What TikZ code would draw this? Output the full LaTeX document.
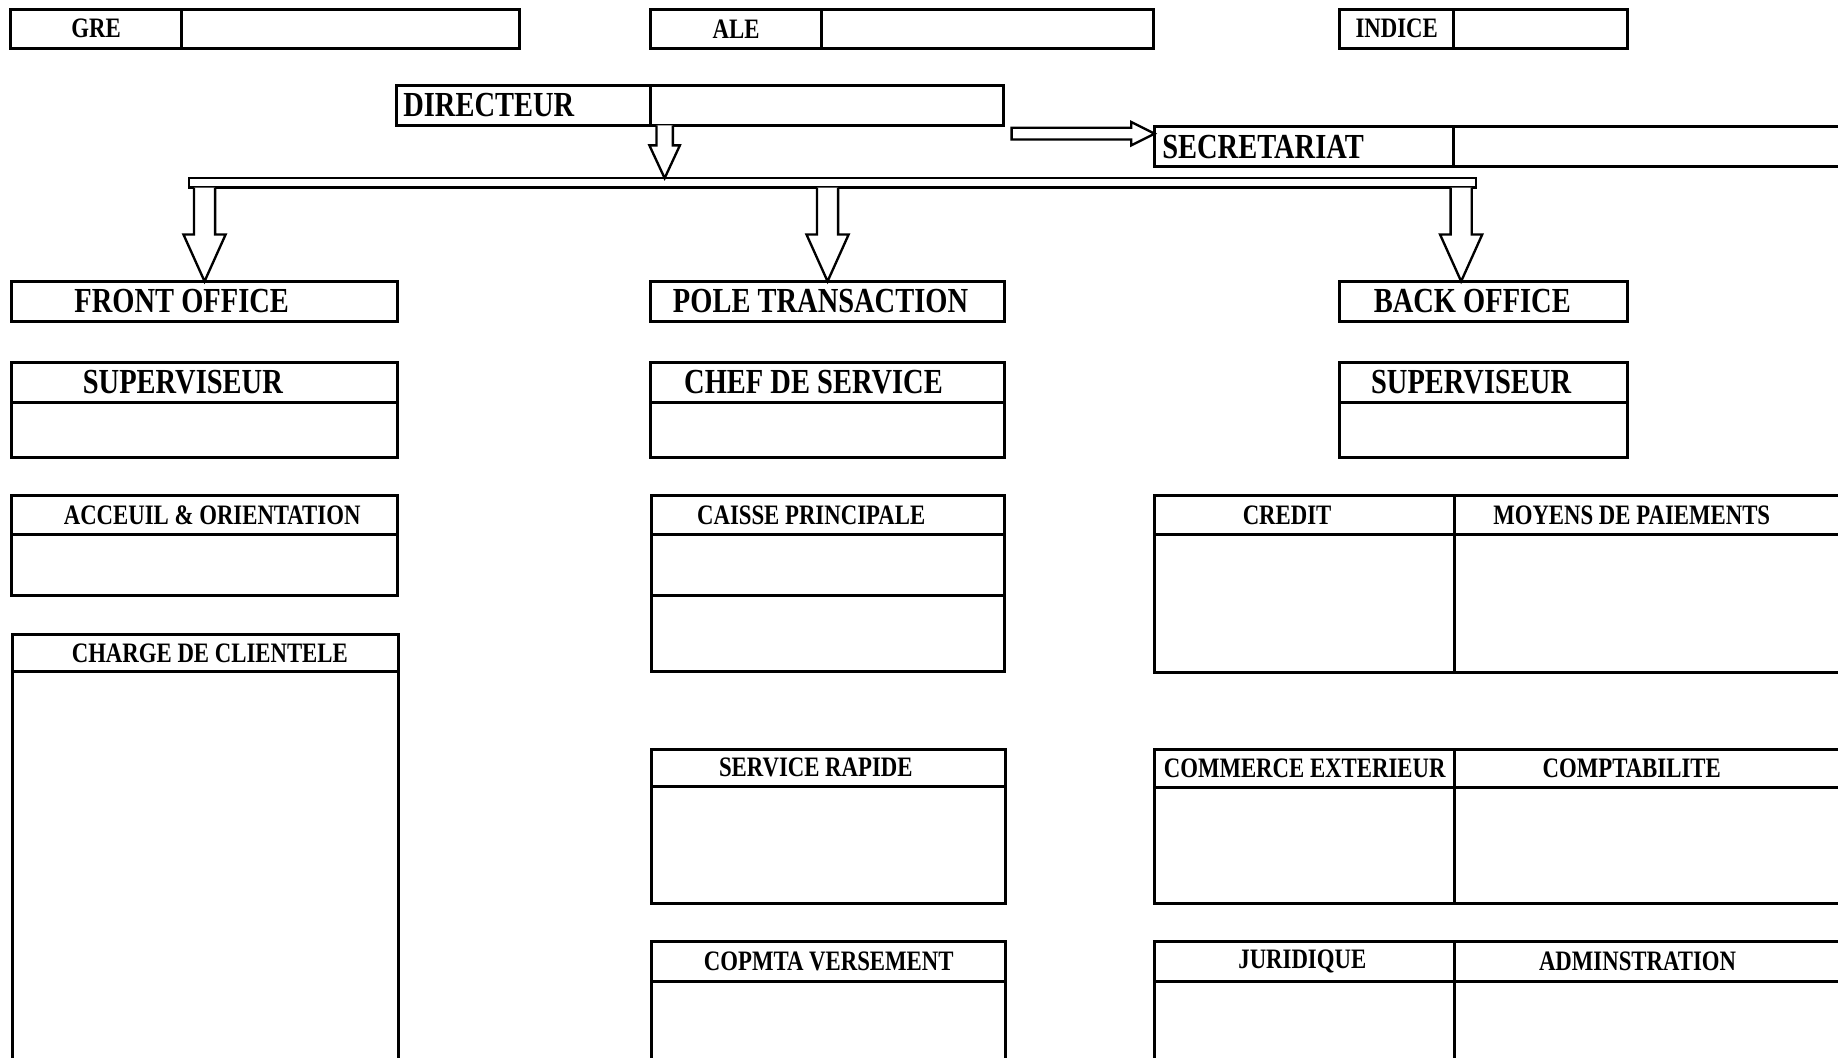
\documentclass[tikz,border=0pt]{standalone}
\usepackage{fontspec}
\setmainfont{Liberation Serif}[FakeStretch=0.81]
\usetikzlibrary{positioning, calc}

\begin{document}
\begin{tikzpicture}[x=0.5pt, y=-0.5pt,
  cell/.style = {draw, rectangle, line width=1.3pt, inner sep=0pt, outer sep=0pt, anchor=north west},
  big/.style = {font=\fontsize{15}{18}\selectfont\bfseries},
  small/.style = {font=\fontsize{12}{14}\selectfont\bfseries},
  nudge/.style = {execute at begin node={\hspace*{#1}}},
  flow/.style = {draw, line width=1pt, fill=white, line join=miter}]
\useasboundingbox (0,0) rectangle (1568,902);
\clip (0,0) rectangle (1568,902);

\node[cell, small, minimum width=73pt, minimum height=16.5pt] (gre) at (9,8) {GRE};
\node[cell, minimum width=144pt, minimum height=16.5pt, right=0pt of gre] (grev) {};
\node[cell, small, minimum width=73pt, minimum height=16.5pt] (ale) at (555,8) {ALE};
\node[cell, minimum width=141.5pt, minimum height=16.5pt, right=0pt of ale] (alev) {};
\node[cell, small, minimum width=48.5pt, minimum height=16.5pt] (indice) at (1143,8) {INDICE};
\node[cell, minimum width=74pt, minimum height=16.5pt, right=0pt of indice] (indicev) {};

\node[cell, big, minimum width=108.5pt, minimum height=17pt, nudge=-29.5pt] (dir) at (338,73) {DIRECTEUR};
\node[cell, minimum width=150.5pt, minimum height=17pt, right=0pt of dir] (dirv) {};
\node[cell, big, minimum width=127.5pt, minimum height=17pt, nudge=-35pt] (secr) at (985,108) {SECRETARIAT};
\node[cell, minimum width=190pt, minimum height=17pt, right=0pt of secr] (secrv) {};

\node[cell, line width=1pt, minimum width=549pt, minimum height=4pt] (bar) at (161,152) {};

\node[cell, big, minimum width=164.5pt, minimum height=17pt, nudge=-19.5pt] (front) at (10,240) {FRONT OFFICE};
\node[cell, big, minimum width=151pt, minimum height=17pt, nudge=-6pt] (pole) at (555,240) {POLE TRANSACTION};
\node[cell, big, minimum width=122.5pt, minimum height=17pt, nudge=-9.5pt] (back) at (1143,240) {BACK OFFICE};
\coordinate (backtip) at ([xshift=-9.5pt]back.north);

\node[cell, big, minimum width=164.5pt, minimum height=17pt, nudge=-18.5pt] (sup1) at (10,309) {SUPERVISEUR};
\node[cell, minimum width=164.5pt, minimum height=23.5pt, below=0pt of sup1] (sup1b) {};
\node[cell, big, minimum width=151pt, minimum height=17pt, nudge=-12pt] (chef) at (555,309) {CHEF DE SERVICE};
\node[cell, minimum width=151pt, minimum height=23.5pt, below=0pt of chef] (chefb) {};
\node[cell, big, minimum width=122.5pt, minimum height=17pt, nudge=-10.5pt] (sup2) at (1143,309) {SUPERVISEUR};
\node[cell, minimum width=122.5pt, minimum height=23.5pt, below=0pt of sup2] (sup2b) {};

\node[cell, small, minimum width=164.5pt, minimum height=16.5pt, nudge=6.5pt] (acc) at (10,423) {ACCEUIL \& ORIENTATION};
\node[cell, minimum width=164.5pt, minimum height=26pt, below=0pt of acc] (accb) {};
\node[cell, small, minimum width=164.5pt, minimum height=16pt, nudge=3.5pt] (charge) at (11,541) {CHARGE DE CLIENTELE};
\node[cell, minimum width=164.5pt, minimum height=200pt, below=0pt of charge] (chargeb) {};

\node[cell, small, minimum width=150.5pt, minimum height=16.5pt, nudge=-14.5pt] (caisse) at (556,423) {CAISSE PRINCIPALE};
\node[cell, minimum width=150.5pt, minimum height=26pt, below=0pt of caisse] (caisseb) {};
\node[cell, minimum width=150.5pt, minimum height=32.5pt, below=0pt of caisseb] (caissec) {};
\node[cell, small, minimum width=151pt, minimum height=16pt, nudge=-11pt] (rapide) at (556,639) {SERVICE RAPIDE};
\node[cell, minimum width=151pt, minimum height=50pt, below=0pt of rapide] (rapideb) {};
\node[cell, small, minimum width=151pt, minimum height=17pt] (versement) at (556,803) {COPMTA VERSEMENT};
\node[cell, minimum width=151pt, minimum height=80pt, below=0pt of versement] (versementb) {};

\node[cell, small, minimum width=128pt, minimum height=16.5pt, nudge=-15pt] (credit) at (985,423) {CREDIT};
\node[cell, small, minimum width=179.5pt, minimum height=16.5pt, nudge=-28.5pt, right=0pt of credit] (moyens) {MOYENS DE PAIEMENTS};
\node[cell, minimum width=128pt, minimum height=59pt, below=0pt of credit] (creditb) {};
\node[cell, minimum width=179.5pt, minimum height=59pt, below=0pt of moyens] (moyensb) {};
\node[cell, small, minimum width=128pt, minimum height=16.5pt] (commerce) at (985,639) {COMMERCE EXTERIEUR};
\node[cell, small, minimum width=179.5pt, minimum height=16.5pt, nudge=-28.5pt, right=0pt of commerce] (compta) {COMPTABILITE};
\node[cell, minimum width=128pt, minimum height=49.5pt, below=0pt of commerce] (commerceb) {};
\node[cell, minimum width=179.5pt, minimum height=49.5pt, below=0pt of compta] (comptab) {};
\node[cell, small, minimum width=128pt, minimum height=17pt, nudge=-2pt] (jur) at (985,803) {JURIDIQUE};
\node[cell, small, minimum width=179.5pt, minimum height=17pt, nudge=-23.5pt, right=0pt of jur] (admin) {ADMINSTRATION};
\node[cell, minimum width=128pt, minimum height=80pt, below=0pt of jur] (jurb) {};
\node[cell, minimum width=179.5pt, minimum height=80pt, below=0pt of admin] (adminb) {};

\draw[flow] let \p1=([xshift=6pt]dirv.south west), \p2=(bar.north) in
  (\x1-3.5pt,\y1) -- (\x1-3.5pt,\y2+14pt) -- (\x1-6.5pt,\y2+14pt) -- (\x1,\y2)
  -- (\x1+6.5pt,\y2+14pt) -- (\x1+3.5pt,\y2+14pt) -- (\x1+3.5pt,\y1);
\draw[flow] let \p1=([xshift=3.5pt]dirv.south east), \p2=([yshift=-3pt]secr.north west) in
  (\x1,\y2+2.5pt) -- (\x2-10pt,\y2+2.5pt) -- (\x2-10pt,\y2+5pt) -- (\x2,\y2)
  -- (\x2-10pt,\y2-5pt) -- (\x2-10pt,\y2-2.5pt) -- (\x1,\y2-2.5pt) -- cycle;
\draw[flow] let \p1=(bar.south -| front.north), \p2=(front.north) in
  (\x1-4.5pt,\y1) -- (\x1-4.5pt,\y2+20pt) -- (\x1-9pt,\y2+20pt) -- (\x2,\y2)
  -- (\x1+9pt,\y2+20pt) -- (\x1+4.5pt,\y2+20pt) -- (\x1+4.5pt,\y1);
\draw[flow] let \p1=(bar.south -| pole.north), \p2=(pole.north) in
  (\x1-4.5pt,\y1) -- (\x1-4.5pt,\y2+20pt) -- (\x1-9pt,\y2+20pt) -- (\x2,\y2)
  -- (\x1+9pt,\y2+20pt) -- (\x1+4.5pt,\y2+20pt) -- (\x1+4.5pt,\y1);
\draw[flow] let \p1=(bar.south -| backtip), \p2=(backtip) in
  (\x1-4.5pt,\y1) -- (\x1-4.5pt,\y2+20pt) -- (\x1-9pt,\y2+20pt) -- (\x2,\y2)
  -- (\x1+9pt,\y2+20pt) -- (\x1+4.5pt,\y2+20pt) -- (\x1+4.5pt,\y1);
\end{tikzpicture}
\end{document}
